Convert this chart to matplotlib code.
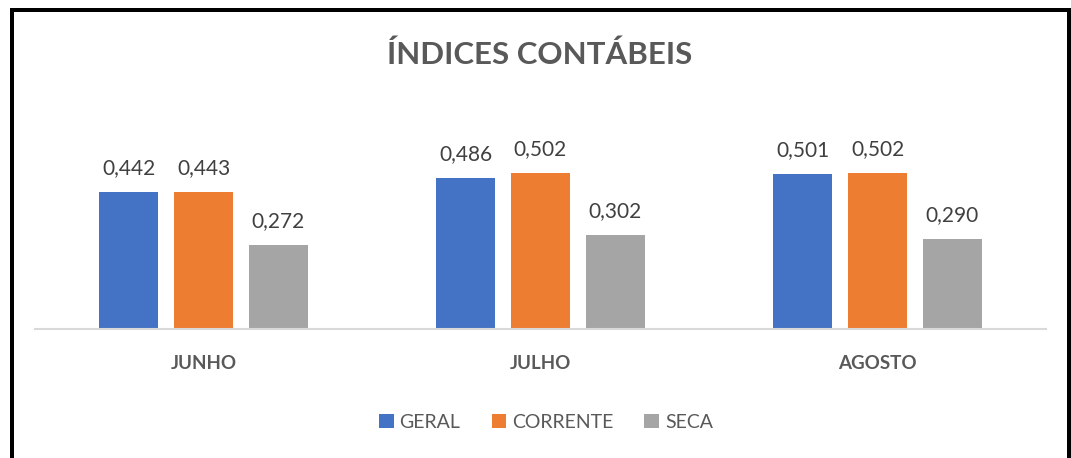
import matplotlib
matplotlib.use("Agg")
import matplotlib.pyplot as plt
from matplotlib.patches import Patch
from matplotlib.lines import Line2D
import numpy as np

categories = ["JUNHO", "JULHO", "AGOSTO"]
series_names = ["GERAL", "CORRENTE", "SECA"]
geral = [0.442, 0.486, 0.501]
corrente = [0.443, 0.502, 0.502]
seca = [0.272, 0.302, 0.290]
colors = ["#4472C4", "#ED7D31", "#A5A5A5"]

plt.rcParams['font.family'] = ['Lato', 'DejaVu Sans']

W, H = 1071, 458
fig = plt.figure(figsize=(W/100, H/100), dpi=100)
ax = fig.add_axes([35/W, 129/H, 1011/W, 229/H])

x = np.arange(len(categories))
bw = 0.175
off = 0.222
for i, (vals, c) in enumerate(zip([geral, corrente, seca], colors)):
    bars = ax.bar(x + (i - 1) * off, vals, width=bw, color=c, zorder=2)
    for b, v in zip(bars, vals):
        ax.annotate(f"{v:.3f}".replace(".", ","),
                    (b.get_x() + b.get_width() / 2, v),
                    xytext=(0, 24), textcoords="offset pixels",
                    ha="center", va="center", fontsize=15, color="#404040")

ax.set_xlim(-0.5, 2.5)
ax.set_ylim(0, 0.442 * 229 / 137)
for s in ["top", "right", "left"]:
    ax.spines[s].set_visible(False)
ax.spines["bottom"].set_color("#D9D9D9")
ax.spines["bottom"].set_linewidth(1.5)
ax.set_yticks([])
ax.set_xticks(x)
ax.set_xticklabels(categories, fontsize=13.5, fontweight="bold", color="#595959")
ax.tick_params(axis="x", length=0, pad=19)

fig.text(540/W, 1 - 55/H, "ÍNDICES CONTÁBEIS", ha="center", va="center",
         fontsize=22.5, fontweight="bold", color="#595959")

handles = [Patch(facecolor=c, edgecolor="none") for c in colors]
leg = fig.legend(handles, series_names, loc="center", bbox_to_anchor=(546/W, 1 - 422/H),
                 ncol=3, frameon=False, fontsize=14, handlelength=0.75, handleheight=0.75,
                 handletextpad=0.3, columnspacing=1.6)
for t in leg.get_texts():
    t.set_color("#595959")

# outer border
lw = 4 * 72 / 100
fig.add_artist(Line2D([12/W, 12/W], [0, 1 - 10/H], color="black", lw=lw, transform=fig.transFigure, solid_capstyle="projecting"))
fig.add_artist(Line2D([12/W, 1069/W], [1 - 10/H, 1 - 10/H], color="black", lw=lw, transform=fig.transFigure, solid_capstyle="projecting"))
fig.add_artist(Line2D([1069/W, 1069/W], [0, 1 - 10/H], color="black", lw=lw, transform=fig.transFigure, solid_capstyle="projecting"))

fig.savefig("out.png", dpi=100)
